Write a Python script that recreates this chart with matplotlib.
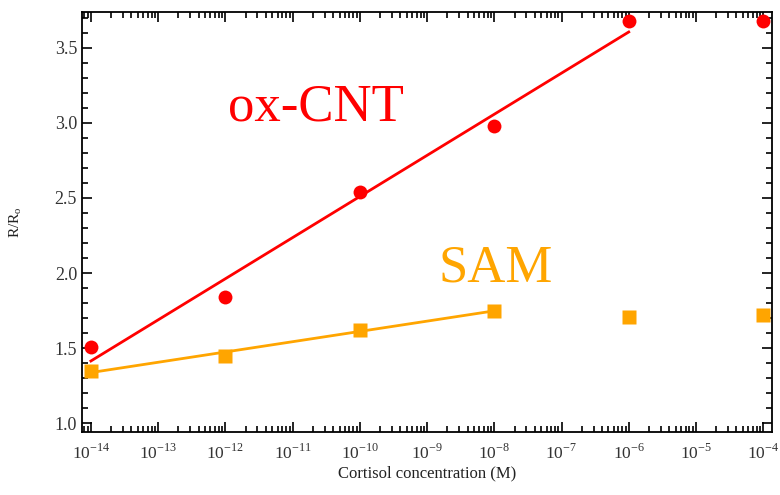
import numpy as np
import matplotlib
matplotlib.use('Agg')
import matplotlib.pyplot as plt
from matplotlib.ticker import LogLocator, MultipleLocator, NullFormatter, FuncFormatter

# 浓度 (M) 与 R/R0
conc = [1e-14, 1e-12, 1e-10, 1e-8, 1e-6, 1e-4]
cnt_r = [1.51, 1.84, 2.54, 2.98, 3.68, 3.68]
sam_r = [1.35, 1.45, 1.62, 1.75, 1.71, 1.72]
decades = list(range(-14, -3))

plt.rcParams['font.family'] = ['Liberation Serif', 'DejaVu Serif']
plt.rcParams['mathtext.fontset'] = 'custom'
plt.rcParams['mathtext.rm'] = 'Liberation Serif'

fig = plt.figure(figsize=(7.8, 4.95), dpi=100)
ax = fig.add_axes([0.105, 0.127, 0.885, 0.849])

lx = np.log10(conc)
# 线性拟合 (对数坐标)
p1 = np.polyfit(lx[:5], cnt_r[:5], 1)
p2 = np.polyfit(lx[:4], sam_r[:4], 1)
ax.plot([conc[0], conc[4]], np.polyval(p1, [lx[0], lx[4]]), color='#ff0000', lw=2)
ax.plot([conc[0], conc[3]], np.polyval(p2, [lx[0], lx[3]]), color='#ffa500', lw=2)
ax.plot(conc, cnt_r, 'o', color='#ff0000', ms=10, mec='none', clip_on=False, zorder=5)
ax.plot(conc, sam_r, 's', color='#ffa500', ms=9.5, mec='none', clip_on=False, zorder=5)

ax.set_xscale('log')
ax.set_xlim(10 ** -14.134, 10 ** -3.866)
ax.set_ylim(0.94, 3.74)
ax.set_xticks([10.0 ** d for d in decades])
ax.xaxis.set_major_formatter(FuncFormatter(lambda v, pos: '$10^{%d}$' % round(np.log10(v))))
ax.xaxis.set_minor_locator(LogLocator(base=10, subs=np.arange(2, 10), numticks=20))
ax.xaxis.set_minor_formatter(NullFormatter())
ax.yaxis.set_major_locator(MultipleLocator(0.5))
ax.yaxis.set_minor_locator(MultipleLocator(0.1))

for s in ax.spines.values():
    s.set_linewidth(1.3)
ax.tick_params(which='both', direction='in', top=True, right=True, colors='black',
               labelcolor='#333333', width=1.2)
ax.tick_params(which='major', length=7, labelsize=13)
ax.tick_params(which='minor', length=4)
ax.tick_params(axis='x', which='major', pad=8, labelsize=12.5)

ax.set_xlabel('Cortisol concentration (M)', fontsize=12, color='#222222', labelpad=2)
ax.set_ylabel('R/R$_\\mathrm{o}$', fontsize=11, color='#222222', labelpad=22)

ax.text(1.1e-12, 3.10, 'ox-CNT', color='#ff0000', fontsize=38, ha='left', va='center')
ax.text(1.5e-9, 2.03, 'SAM', color='#ffa500', fontsize=38, ha='left', va='center')

fig.savefig('out.png', dpi=100)
